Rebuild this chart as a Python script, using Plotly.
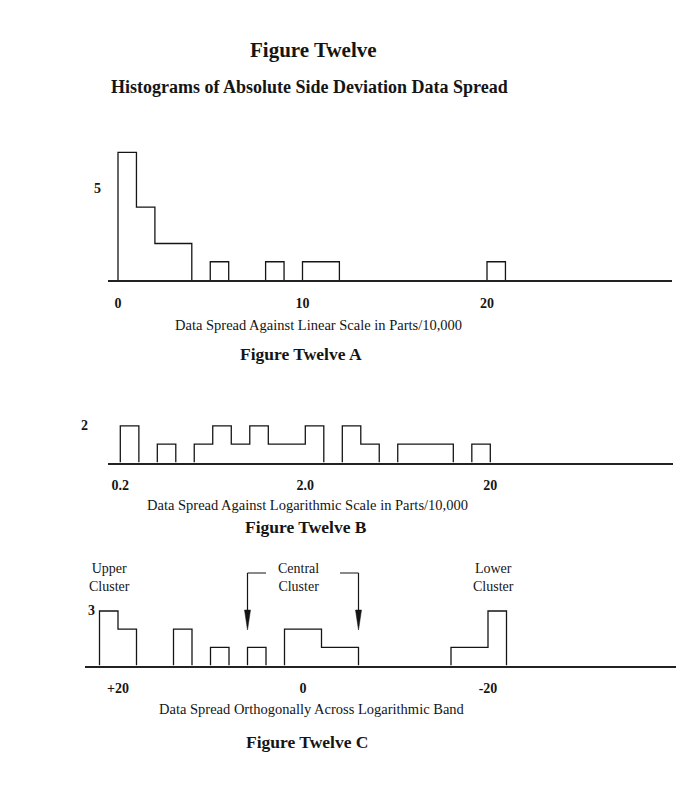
import math
import plotly.graph_objects as go

# ---------------- data ----------------
# Figure Twelve A : linear scale (parts/10,000)
a_left = [0, 1, 2, 5, 8, 10, 20]
a_right = [1, 2, 4, 6, 9, 12, 21]
a_count = [7, 4, 2, 1, 1, 1, 1]
a_ticks = [0, 10, 20]
a_ticktext = ["0", "10", "20"]

# Figure Twelve B : logarithmic scale (parts/10,000), bins of 0.1 decade
b_left = [0.2, 0.317, 0.502, 0.632, 0.796, 1.002, 1.262, 2.0, 3.17, 3.99, 6.32, 15.89]
b_right = [0.252, 0.399, 0.632, 0.796, 1.002, 1.262, 2.0, 2.518, 3.99, 5.02, 12.62, 20.0]
b_count = [2, 1, 1, 2, 1, 2, 1, 2, 2, 1, 1, 1]
b_ticks = [0.2, 2.0, 20]
b_ticktext = ["0.2", "2.0", "20"]

# Figure Twelve C : spread orthogonally across logarithmic band
c_left = [22, 20, 14, 10, 6, 2, -2, -16, -20]
c_right = [20, 18, 12, 8, 4, -2, -6, -20, -22]
c_count = [3, 2, 2, 1, 1, 2, 1, 1, 3]
c_ticks = [20, 0, -20]
c_ticktext = ["+20", "0", "-20"]
central_cluster = [6, -6]

FONT = "Liberation Serif, Times New Roman, DejaVu Serif, serif"
INK = "#151515"
OFF = 8                      # page body margin
W, H = 700 - OFF, 810 - OFF


def outline(left, right, count):
    xs, ys = [], []
    prev_r = None
    for l, r, c in zip(left, right, count):
        if prev_r is not None and abs(l - prev_r) < 1e-9:
            xs += [l, r]
            ys += [c, c]
        else:
            if prev_r is not None:
                xs += [prev_r, None]
                ys += [0, None]
            xs += [l, l, r]
            ys += [0, c, c]
        prev_r = r
    xs.append(prev_r)
    ys.append(0)
    return xs, ys


def px_x(p):
    return (p - OFF) / W


def px_y(p):
    return 1 - (p - OFF) / H


fig = go.Figure()
for i, (l, r, c) in enumerate([(a_left, a_right, a_count),
                               (b_left, b_right, b_count),
                               (c_left, c_right, c_count)]):
    xs, ys = outline(l, r, c)
    sfx = "" if i == 0 else str(i + 1)
    fig.add_trace(go.Scatter(x=xs, y=ys, mode="lines",
                             line=dict(color=INK, width=1.3),
                             xaxis="x" + sfx, yaxis="y" + sfx,
                             hoverinfo="skip", showlegend=False,
                             cliponaxis=False))

xbase = dict(showgrid=False, zeroline=False, showline=True, linecolor="#222",
             linewidth=1.6, ticks="", tickfont=dict(family=FONT, size=14, color=INK),
             ticklabelstandoff=9, fixedrange=True)
ybase = dict(showgrid=False, zeroline=False, showline=False, visible=False,
             fixedrange=True)

# Panel A
a_x0, a_x1, a_zero, a_ppu = 108, 672, 118, 18.45
a_base, a_top, a_ppc = 280, 130, 18.24
# Panel B
b_x0, b_x1, b_anchor, b_ppd = 108, 673, 120.3, 185.0
b_base, b_top, b_ppc = 462.5, 400, 18.3
# Panel C
c_x0, c_x1, c_zero, c_ppu = 85, 676, 303, 9.25
c_base, c_top, c_ppc = 665.5, 555, 18.17

fig.update_layout(
    width=W, height=H, margin=dict(l=0, r=0, t=0, b=0),
    paper_bgcolor="white", plot_bgcolor="white", showlegend=False,
    xaxis=dict(xbase, domain=[px_x(a_x0), px_x(a_x1)], anchor="y",
               range=[(a_x0 - a_zero) / a_ppu, (a_x1 - a_zero) / a_ppu],
               tickvals=a_ticks, ticktext=["<b>%s</b>" % t for t in a_ticktext]),
    yaxis=dict(ybase, domain=[px_y(a_base), px_y(a_top)], anchor="x",
               range=[0, (a_base - a_top) / a_ppc]),
    xaxis2=dict(xbase, domain=[px_x(b_x0), px_x(b_x1)], anchor="y2", type="log",
                range=[math.log10(0.2) + (b_x0 - b_anchor) / b_ppd,
                       math.log10(0.2) + (b_x1 - b_anchor) / b_ppd],
                tickvals=b_ticks, ticktext=["<b>%s</b>" % t for t in b_ticktext]),
    yaxis2=dict(ybase, domain=[px_y(b_base), px_y(b_top)], anchor="x2",
                range=[0, (b_base - b_top) / b_ppc]),
    xaxis3=dict(xbase, domain=[px_x(c_x0), px_x(c_x1)], anchor="y3",
                range=[(c_zero - c_x0) / c_ppu, (c_zero - c_x1) / c_ppu],
                tickvals=c_ticks, ticktext=["<b>%s</b>" % t for t in c_ticktext]),
    yaxis3=dict(ybase, domain=[px_y(c_base), px_y(c_top)], anchor="x3",
                range=[0, (c_base - c_top) / c_ppc]),
)


def text(s, x, y, size, bold=False, xanchor="center"):
    fig.add_annotation(text="<b>%s</b>" % s if bold else s, x=px_x(x), y=px_y(y),
                       xref="paper", yref="paper", showarrow=False,
                       xanchor=xanchor, yanchor="middle",
                       font=dict(family=FONT, size=size, color=INK))


text("Figure Twelve", 313, 50, 21, True)
text("Histograms of Absolute Side Deviation Data Spread", 309, 87, 18, True)
text("Data Spread Against Linear Scale in Parts/10,000", 318, 325, 14.5)
text("Figure Twelve A", 301, 354, 17.5, True)
text("Data Spread Against Logarithmic Scale in Parts/10,000", 307, 505, 14.5)
text("Figure Twelve B", 306, 527, 17.5, True)
text("Data Spread Orthogonally Across Logarithmic Band", 312, 709, 14.5)
text("Figure Twelve C", 307, 742, 17.5, True)

# y count labels
for val, xpx, yref in [(5, 97, "y"), (2, 84, "y2"), (3, 91, "y3")]:
    fig.add_annotation(text="<b>%d</b>" % val, x=px_x(xpx), y=val, xref="paper",
                       yref=yref, showarrow=False, xanchor="center", yanchor="middle",
                       font=dict(family=FONT, size=14, color=INK))

# cluster labels
for s, xpx in [("Upper<br>Cluster", 109), ("Central<br>Cluster", 298), ("Lower<br>Cluster", 494)]:
    fig.add_annotation(text=s, x=px_x(xpx), y=px_y(577), xref="paper", yref="paper",
                       showarrow=False, xanchor="center", yanchor="middle",
                       font=dict(family=FONT, size=14, color=INK))

# central cluster brackets & arrows
arm_y = (c_base - 573) / c_ppc
tip_y = (c_base - 630) / c_ppc
head_len = 20 / c_ppc
head_half = 3 / c_ppu
arm_len = 2
for xv, sign in [(central_cluster[0], -1), (central_cluster[1], 1)]:
    fig.add_shape(type="line", xref="x3", yref="y3", x0=xv, x1=xv + sign * arm_len,
                  y0=arm_y, y1=arm_y, line=dict(color=INK, width=1.2))
    fig.add_shape(type="line", xref="x3", yref="y3", x0=xv, x1=xv,
                  y0=arm_y, y1=tip_y + head_len, line=dict(color=INK, width=1.2))
    fig.add_shape(type="path", xref="x3", yref="y3",
                  path="M %f,%f L %f,%f L %f,%f Z" % (xv - head_half, tip_y + head_len,
                                                       xv + head_half, tip_y + head_len,
                                                       xv, tip_y),
                  fillcolor=INK, line=dict(color=INK, width=0.5))

fig.write_html("out.html")
